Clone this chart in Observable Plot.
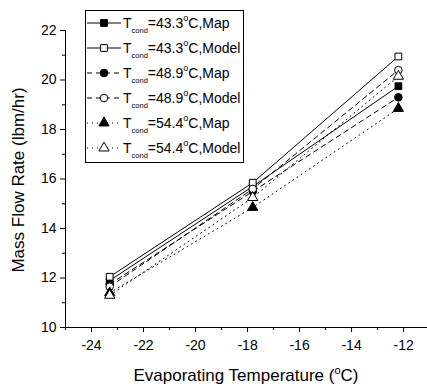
<!DOCTYPE html>
<html>
<head>
<meta charset="utf-8">
<script src="https://cdn.jsdelivr.net/npm/d3@7"></script>
<script src="https://cdn.jsdelivr.net/npm/@observablehq/plot@0.6"></script>
<style>
  html, body { margin: 0; padding: 0; background: #fff; overflow: hidden; }
  #chart { position: relative; width: 427px; height: 390px; }
  svg { font-family: "Liberation Sans", Arial, sans-serif; }
</style>
</head>
<body>
<div id="chart"></div>
<script>
// ---- data ----
const evapTemps = [-23.3, -17.8, -12.2];
const condLabels = ["43.3", "43.3", "48.9", "48.9", "54.4", "54.4"];
const kindLabels = ["Map", "Model", "Map", "Model", "Map", "Model"];
const map433   = [11.9, 15.7, 19.75];
const model433 = [12.05, 15.85, 20.95];
const map489   = [11.75, 15.5, 19.3];
const model489 = [11.65, 15.6, 20.4];
const map544   = [11.4, 14.85, 18.85];
const model544 = [11.3, 15.25, 20.15];
const yMajorTicks = [10, 12, 14, 16, 18, 20, 22];
const yMinorTicks = [11, 13, 15, 17, 19, 21];
const xMajorTicks = [-24, -22, -20, -18, -16, -14, -12];
const xMinorTicks = [-25, -23, -21, -19, -17, -15, -13, -11];

const seriesValues = [map433, model433, map489, model489, map544, model544];
const symbols = ["square", "square", "circle", "circle", "triangle", "triangle"];
const fills = ["black", "white", "black", "white", "black", "white"];
const dashes = [null, null, "5,4", "5,4", "1,4", "1,4"];

const rows = [];
seriesValues.forEach((vals, s) => {
  vals.forEach((v, i) => rows.push({s, x: evapTemps[i], y: v}));
});

const marks = [];
seriesValues.forEach((vals, s) => {
  const d = rows.filter(r => r.s === s);
  marks.push(Plot.line(d, {x: "x", y: "y", stroke: "black", strokeWidth: 1, strokeDasharray: dashes[s]}));
});
seriesValues.forEach((vals, s) => {
  const d = rows.filter(r => r.s === s);
  marks.push(Plot.dot(d, {x: "x", y: "y", symbol: () => symbols[s], r: 3.8, fill: fills[s], stroke: "black", strokeWidth: 1}));
});

const xDomain = [-25, -11.08];
const yDomain = [10, 22];

const plot = Plot.plot({
  width: 427,
  height: 390,
  marginLeft: 65,
  marginRight: 0,
  marginTop: 30,
  marginBottom: 63,
  style: {fontFamily: "Liberation Sans, Arial, sans-serif", fontSize: "14px", color: "black", background: "white"},
  x: {domain: xDomain},
  y: {domain: yDomain},
  symbol: {type: "identity"},
  marks: [
    Plot.ruleY([yDomain[0]], {stroke: "black", strokeWidth: 1}),
    Plot.ruleX([xDomain[0]], {stroke: "black", strokeWidth: 1}),
    Plot.axisY({ticks: yMajorTicks, tickSize: 5, tickPadding: 4, label: null, fontSize: 14, tickFormat: d => d}),
    Plot.axisY({ticks: yMinorTicks, tickSize: 3, text: null, label: null}),
    Plot.axisX({ticks: xMajorTicks, tickSize: 5, tickPadding: 8, label: null, fontSize: 14, tickFormat: d => d < 0 ? "-" + Math.abs(d) : d}),
    Plot.axisX({ticks: xMinorTicks.filter(t => t <= xDomain[1]), tickSize: 3, text: null, label: null}),
    ...marks
  ]
});
document.getElementById("chart").appendChild(plot);

const svg = d3.select(plot);

// axis titles
const xt = svg.append("text")
  .attr("x", 246).attr("y", 381)
  .attr("text-anchor", "middle")
  .attr("font-size", 17).attr("fill", "black");
xt.append("tspan").text("Evaporating Temperature (");
xt.append("tspan").attr("font-size", 11).attr("dy", -7).text("o");
xt.append("tspan").attr("dy", 7).text("C)");

svg.append("text")
  .attr("transform", "translate(24,180) rotate(-90)")
  .attr("text-anchor", "middle")
  .attr("font-size", 17).attr("fill", "black")
  .text("Mass Flow Rate (lbm/hr)");

// legend
const lg = svg.append("g");
lg.append("rect").attr("x", 85.5).attr("y", 10.5).attr("width", 158).attr("height", 152)
  .attr("fill", "white").attr("stroke", "black").attr("stroke-width", 1);
const symGen = {square: d3.symbolSquare, circle: d3.symbolCircle, triangle: d3.symbolTriangle};
seriesValues.forEach((vals, s) => {
  const yy = 23 + s * 25;
  lg.append("line").attr("x1", 87).attr("x2", 121).attr("y1", yy).attr("y2", yy)
    .attr("stroke", "black").attr("stroke-width", 1)
    .attr("stroke-dasharray", dashes[s]);
  lg.append("path").attr("d", d3.symbol(symGen[symbols[s]], Math.PI * 3.8 * 3.8)())
    .attr("transform", `translate(104,${yy})`)
    .attr("fill", fills[s]).attr("stroke", "black");
  const t = lg.append("text").attr("x", 123).attr("y", yy + 5)
    .attr("text-anchor", "start")
    .attr("font-size", 14).attr("fill", "black");
  t.append("tspan").text("T");
  t.append("tspan").attr("font-size", 7.5).attr("dy", 5).text("cond");
  t.append("tspan").attr("dy", -5).text("=" + condLabels[s]);
  t.append("tspan").attr("font-size", 9).attr("dy", -7).text("o");
  t.append("tspan").attr("dy", 7).text("C," + kindLabels[s]);
});
</script>
</body>
</html>
